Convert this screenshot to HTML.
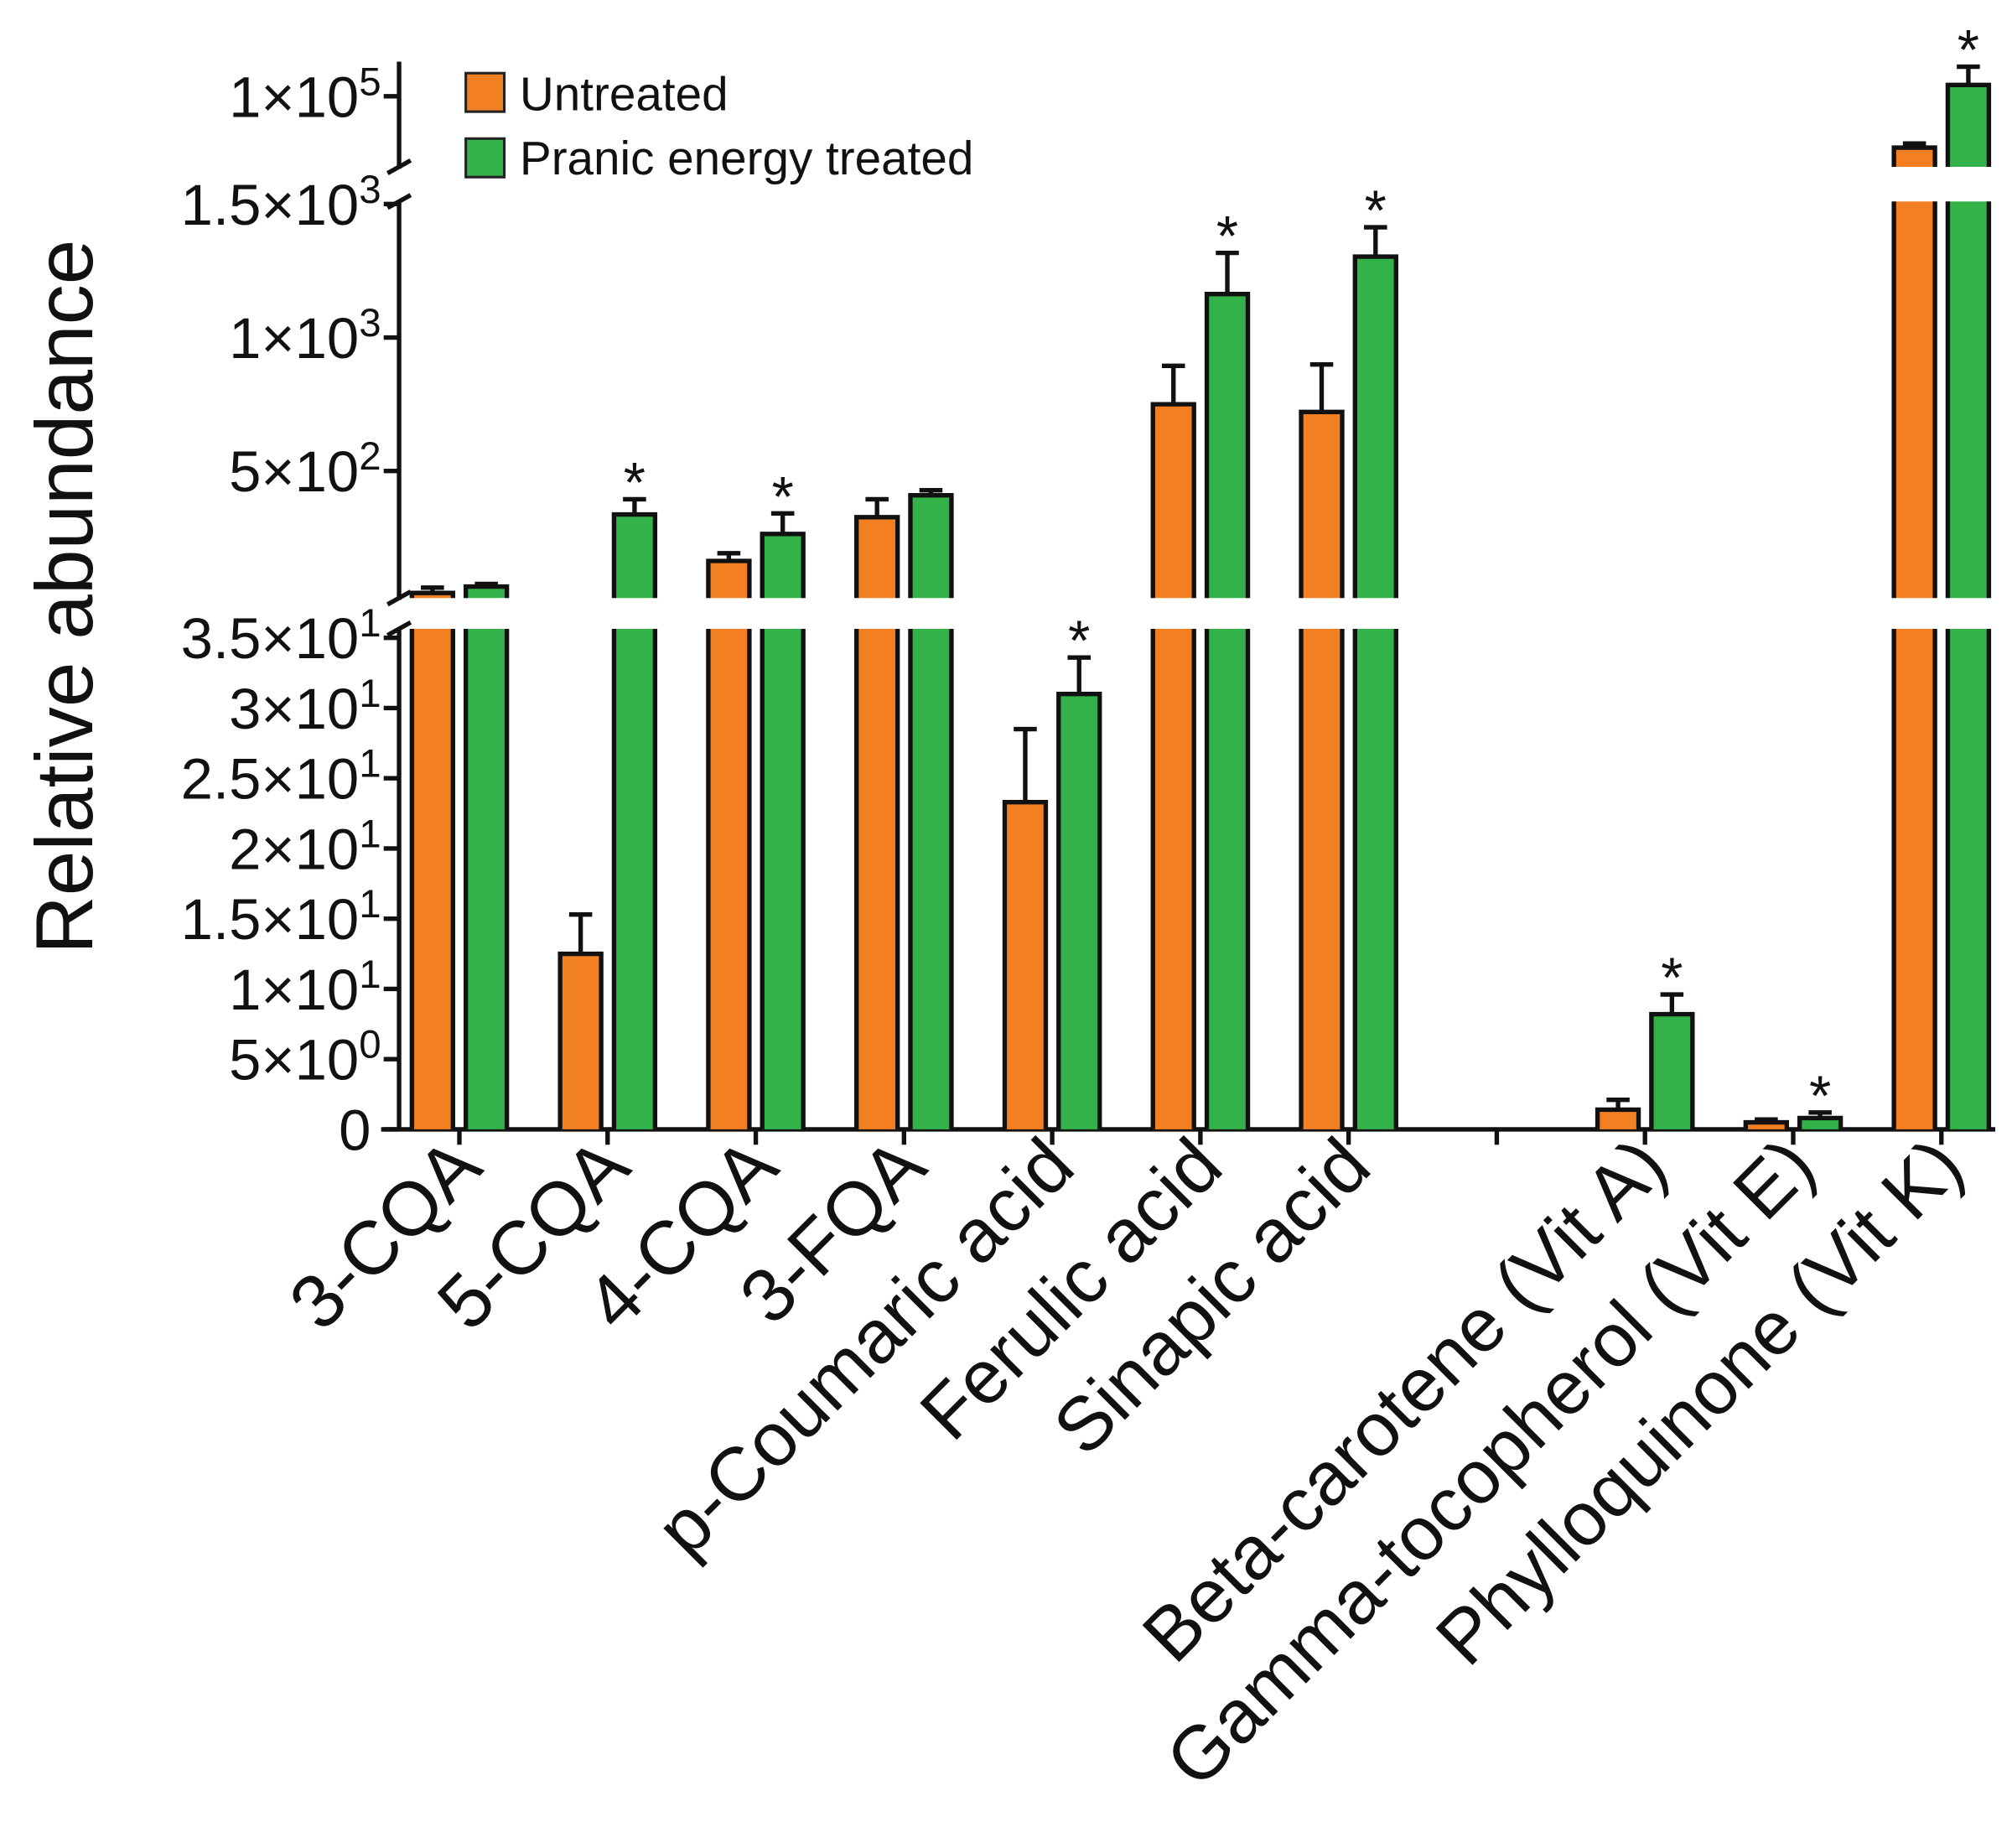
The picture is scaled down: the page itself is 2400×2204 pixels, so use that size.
<!DOCTYPE html>
<html><head><meta charset="utf-8"><style>
html,body{margin:0;padding:0;background:#fff}
svg{display:block}
text{font-family:"Liberation Sans",Arial,sans-serif;fill:#111}
</style></head><body>
<svg id="chart" width="2400" height="2204" viewBox="0 0 1568 1440" xmlns="http://www.w3.org/2000/svg">
<g id="axes"></g>
<g id="bars"></g>
<g id="legend">
  <rect x="363" y="57" width="30" height="30" fill="#f28022" stroke="#222" stroke-width="2"/>
  <text x="405" y="86" font-size="37">Untreated</text>
  <rect x="363" y="108" width="30" height="30" fill="#33b24a" stroke="#222" stroke-width="2"/>
  <text x="405" y="136" font-size="37">Pranic energy treated</text>
</g>
<text transform="translate(72,465) rotate(-90)" text-anchor="middle" font-size="63">Relative abundance</text>
</svg>
<script>
const categories = ["3-CQA","5-CQA","4-CQA","3-FQA","p-Coumaric acid","Ferulic acid","Sinapic acid","","Beta-carotene (Vit A)","Gamma-tocopherol (Vit E)","Phylloquinone (Vit K)"];
const untreated = [43,12.5,163,327,23.3,750,721,null,1.4,0.5,75000];
const untreatedErr = [63,15.3,192,394,28.5,894,899,null,2.1,0.7,77000];
const treated = [67,337,264,409,31,1163,1303,null,8.2,0.8,105500];
const treatedErr = [77,394,341,428,33.6,1317,1413,null,9.6,1.2,114400];
const significant = [false,true,true,false,true,true,true,false,true,true,true];
const lowTicks = [0,5,10,15,20,25,30,35];
const lowTickLabels = [["0",""],["5×10","0"],["1×10","1"],["1.5×10","1"],["2×10","1"],["2.5×10","1"],["3×10","1"],["3.5×10","1"]];
const midTicks = [500,1000,1500];
const midTickLabels = [["5×10","2"],["1×10","3"],["1.5×10","3"]];
const topTicks = [100000];
const topTickLabels = [["1×10","5"]];

const NS="http://www.w3.org/2000/svg";
const AX=311, BASE=880, RIGHT=1555;
const LOW_TOP=490, MID_BOT=466, MID_TOP=157, TOP_BOT=130, TOP_TOP=48;
function yLow(v){return BASE - v*(BASE-497)/35;}
function yMid(v){return 471 - v*(471-159)/1500;}
function yTop(v){return 75 + (100000-v)*0.0016;}
function yAny(v){ if(v<=35) return yLow(v); if(v<=1500) return yMid(v); return yTop(v); }
function xCenter(i){return 358 + i*115.5;}
function mk(tag,attrs,parent){const e=document.createElementNS(NS,tag);for(const k in attrs)e.setAttribute(k,attrs[k]);parent.appendChild(e);return e;}

const axes=document.getElementById('axes');
const barsG=document.getElementById('bars');
const S={stroke:"#111","stroke-width":3.5,fill:"none"};

[[BASE,LOW_TOP],[MID_BOT,MID_TOP],[TOP_BOT,TOP_TOP]].forEach(s=>{
  const l=mk('line',Object.assign({x1:AX,x2:AX,y1:s[0]+1.5,y2:s[1]},S),axes);
  
  
});
[[LOW_TOP,MID_BOT],[MID_TOP,TOP_BOT]].forEach(b=>{
  [b[0],b[1]].forEach(y=>{
    const l=mk('line',Object.assign({x1:AX-9,x2:AX+9,y1:y+5,y2:y-5},S),axes);
    
    
  });
});
const xl=mk('line',Object.assign({x1:AX-14,x2:RIGHT,y1:BASE,y2:BASE},S),axes);



function tick(y,lab){
  const t=mk('line',Object.assign({x1:AX-12,x2:AX,y1:y,y2:y},S),axes);
  
  
  const tx=mk('text',{x:lab[1]?AX-14:AX-22,y:y+16,"text-anchor":"end","font-size":45},axes);
  
  
  tx.appendChild(document.createTextNode(lab[0]));
  if(lab[1]){const sp=mk('tspan',{dy:-17,"font-size":31},tx);sp.textContent=lab[1];}
}
lowTicks.forEach((v,i)=>tick(yLow(v),lowTickLabels[i]));
midTicks.forEach((v,i)=>tick(yMid(v),midTickLabels[i]));
topTicks.forEach((v,i)=>tick(yTop(v),topTickLabels[i]));

categories.forEach((c,i)=>{
  const x=xCenter(i);
  const t=mk('line',Object.assign({x1:x,x2:x,y1:BASE,y2:BASE+12},S),axes);
  
  
  if(c){
    const tx=mk('text',{"text-anchor":"end","font-size":59,transform:`translate(${x+20},${BASE+32}) rotate(-45)`},axes);
    
    
    tx.textContent=c;
  }
});

const W=32;
function drawPiece(x,y0,y1,color,topClosed){
  mk('rect',{x:x,y:y1,width:W,height:y0-y1,fill:color},barsG);
  let d=`M${x},${y0} L${x},${y1}`;
  if(topClosed) d+=` L${x+W},${y1}`; else d+=` M${x+W},${y1}`;
  d+=` L${x+W},${y0}`;
  mk('path',Object.assign({d:d},S),barsG);
}
function bar(i,v,err,color,off,name){
  if(v==null) return;
  const x=xCenter(i)+off-W/2;
  const g=mk('g',{},barsG);
  
  
  const y=yAny(v);
  const ye=yAny(err);
  const cx=x+W/2;
  mk('line',Object.assign({x1:cx,x2:cx,y1:y,y2:ye},S),barsG);
  mk('line',Object.assign({x1:cx-9,x2:cx+9,y1:ye,y2:ye},S),barsG);
  if(v<=35){ drawPiece(x,BASE,y,color,true); }
  else if(v<=1500){ drawPiece(x,BASE,LOW_TOP,color,false); drawPiece(x,MID_BOT,y,color,true); }
  else { drawPiece(x,BASE,LOW_TOP,color,false); drawPiece(x,MID_BOT,MID_TOP,color,false); drawPiece(x,TOP_BOT,y,color,true); }
}
categories.forEach((c,i)=>{
  bar(i,untreated[i],untreatedErr[i],"#f28022",-21,"bar-untreated");
  bar(i,treated[i],treatedErr[i],"#33b24a",21,"bar-treated");
  if(significant[i]){
    const s=mk('text',{x:xCenter(i)+21,y:yAny(treatedErr[i])+2,"text-anchor":"middle","font-size":44},barsG);
    
    
    s.textContent="*";
  }
});
</script>
</body></html>
